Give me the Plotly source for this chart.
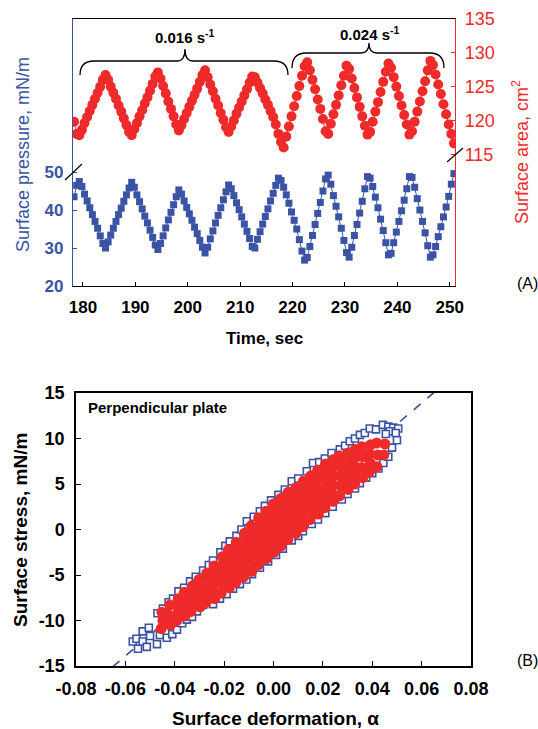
# two panels: (A) pressure + area vs time, (B) stress vs deformation
import plotly.graph_objects as go

# ---- panel A data ----
time_s = [178.3, 178.8, 179.3, 179.8, 180.3, 180.8, 181.3, 181.8, 182.3, 182.8,
          183.3, 183.8, 184.3, 184.8, 185.3, 185.8, 186.3, 186.8, 187.3, 187.8,
          188.3, 188.8, 189.3, 189.8, 190.3, 190.8, 191.3, 191.8, 192.3, 192.8,
          193.3, 193.8, 194.3, 194.8, 195.3, 195.8, 196.3, 196.8, 197.3, 197.8,
          198.3, 198.8, 199.3, 199.8, 200.3, 200.8, 201.3, 201.8, 202.3, 202.8,
          203.3, 203.8, 204.3, 204.8, 205.3, 205.8, 206.3, 206.8, 207.3, 207.8,
          208.3, 208.8, 209.3, 209.8, 210.3, 210.8, 211.3, 211.8, 212.3, 212.8,
          213.3, 213.8, 214.3, 214.8, 215.3, 215.8, 216.3, 216.8, 217.3, 217.8,
          218.3, 218.8, 219.3, 219.8, 220.3, 220.8, 221.3, 221.8, 222.3, 222.8,
          223.3, 223.8, 224.3, 224.8, 225.3, 225.8, 226.3, 226.8, 227.3, 227.8,
          228.3, 228.8, 229.3, 229.8, 230.3, 230.8, 231.3, 231.8, 232.3, 232.8,
          233.3, 233.8, 234.3, 234.8, 235.3, 235.8, 236.3, 236.8, 237.3, 237.8,
          238.3, 238.8, 239.3, 239.8, 240.3, 240.8, 241.3, 241.8, 242.3, 242.8,
          243.3, 243.8, 244.3, 244.8, 245.3, 245.8, 246.3, 246.8, 247.3, 247.8,
          248.3, 248.8, 249.3, 249.8, 250.3, 250.8]

pressure = [43.5, 46.5, 47.5, 46.2, 44.2, 42.4, 40.6, 38.8, 37.0, 35.2,
            33.2, 31.2, 30.0, 31.6, 33.4, 35.2, 37.0, 38.8, 40.5, 42.3,
            44.0, 45.8, 47.3, 46.0, 44.0, 42.2, 40.3, 38.4, 36.6, 34.7,
            32.8, 30.8, 29.6, 31.2, 33.2, 35.3, 37.4, 39.4, 41.4, 43.5,
            45.3, 44.2, 42.4, 40.7, 39.0, 37.3, 35.5, 33.8, 32.0, 30.2,
            28.7, 30.2, 32.4, 34.5, 36.6, 38.6, 40.6, 42.7, 44.8, 46.6,
            45.6, 43.8, 41.9, 40.1, 38.2, 36.3, 34.4, 32.5, 30.4, 30.0,
            32.3, 34.3, 36.3, 38.3, 40.3, 42.4, 44.4, 46.5, 48.4, 47.8,
            46.0, 44.0, 41.8, 39.5, 37.3, 35.0, 32.2, 29.2, 26.8, 27.5,
            30.4, 33.3, 36.2, 39.1, 42.0, 45.0, 48.2, 49.2, 46.8, 43.8,
            41.0, 38.2, 35.2, 32.0, 28.8, 27.6, 30.2, 33.3, 36.2, 39.2,
            42.3, 45.6, 48.8, 48.4, 46.2, 43.4, 40.6, 37.6, 34.6, 31.4,
            28.2, 28.6, 31.4, 34.2, 37.0, 39.8, 42.6, 45.6, 48.8, 48.6,
            46.0, 43.0, 40.0, 37.0, 34.0, 30.6, 27.6, 28.2, 30.4, 33.0,
            35.6, 38.2, 40.8, 43.6, 46.8, 49.6]

area = [119.8, 118.0, 117.8, 118.6, 119.6, 120.5, 121.4, 122.3, 123.2, 124.1,
        125.0, 126.0, 126.7, 126.0, 125.0, 124.1, 123.2, 122.2, 121.3, 120.3,
        119.3, 118.3, 117.8, 118.7, 119.6, 120.6, 121.5, 122.5, 123.4, 124.4,
        125.4, 126.5, 127.1, 126.2, 125.1, 124.0, 122.8, 121.7, 120.6, 119.4,
        118.5, 119.3, 120.2, 121.1, 122.0, 122.9, 123.8, 124.7, 125.7, 126.7,
        127.4, 126.4, 125.3, 124.3, 123.2, 122.2, 121.1, 120.1, 119.0, 118.3,
        119.1, 120.0, 121.0, 121.9, 122.8, 123.7, 124.6, 125.6, 126.5, 126.4,
        125.6, 124.8, 124.0, 123.1, 122.3, 121.4, 120.5, 119.4, 118.0, 116.8,
        116.0, 117.6, 119.1, 120.6, 122.1, 123.6, 125.1, 126.6, 128.0, 128.6,
        127.4, 126.0, 124.6, 123.1, 121.7, 120.2, 118.4, 118.0, 119.5, 120.9,
        122.3, 123.7, 125.2, 126.6, 128.1, 127.6, 126.2, 124.8, 123.4, 122.0,
        120.6, 119.2, 117.9, 118.3, 119.8, 121.3, 122.7, 124.2, 125.7, 127.2,
        128.4, 127.8, 126.4, 125.0, 123.6, 122.2, 120.8, 119.4, 117.9, 118.4,
        119.8, 121.3, 122.8, 124.3, 125.8, 127.4, 128.8, 128.2, 126.8, 125.3,
        123.9, 122.4, 120.9, 119.4, 118.0, 116.6]

time_ticks = [180, 190, 200, 210, 220, 230, 240, 250]
pressure_ticks = [20, 30, 40, 50]
area_ticks = [115, 120, 125, 130, 135]

# ---- panel B data ----
blue_x = [-0.0470, -0.0448, -0.0425, -0.0407, -0.0385, -0.0362, -0.0338, -0.0315,
          -0.0285, -0.0262, -0.0245, -0.0215, -0.0195, -0.0177, -0.0150, -0.0130,
          -0.0108, -0.0080, -0.0055, -0.0035, -0.0010, 0.0020, 0.0046, 0.0074,
          0.0100, 0.0135, 0.0160, 0.0185, 0.0208, 0.0235, 0.0269, 0.0290,
          0.0309, 0.0330, 0.0350, 0.0370, 0.0390, 0.0415, 0.0443, 0.0465,
          0.0485, 0.0505, 0.0470, 0.0495, 0.0455,
          -0.0570, -0.0549, -0.0555, -0.0530, -0.0513, -0.0500, -0.0472, -0.0460,
          -0.0432, -0.0410, -0.0391, -0.0370, -0.0351, -0.0330, -0.0310, -0.0285,
          -0.0265, -0.0245, -0.0217, -0.0190, -0.0164, -0.0136, -0.0110, -0.0087,
          -0.0055, -0.0022, 0.0010, 0.0038, 0.0074, 0.0100, 0.0119, 0.0155,
          0.0180, 0.0210, 0.0240, 0.0277, 0.0300, 0.0330, 0.0350, 0.0375,
          0.0400, 0.0425, 0.0445, 0.0465, 0.0480, 0.0500, -0.0530, -0.0505]
blue_y = [-9.2, -8.7, -8.0, -7.6, -6.8, -6.4, -5.7, -5.2,
          -4.5, -3.9, -3.4, -2.5, -1.8, -1.3, -0.7, 0.0,
          0.9, 1.4, 2.0, 2.6, 3.2, 3.8, 4.4, 5.3,
          5.6, 6.4, 7.3, 7.4, 7.8, 8.4, 8.8, 9.2,
          9.7, 10.0, 10.4, 10.6, 11.1, 11.0, 11.5, 11.3,
          11.2, 11.1, 10.8, 10.6, 10.5,
          -12.3, -13.1, -12.0, -12.3, -12.9, -11.7, -12.6, -11.6,
          -11.9, -11.5, -11.0, -10.3, -9.9, -9.6, -9.0, -8.3,
          -7.9, -8.2, -7.6, -7.1, -6.5, -6.0, -5.5, -4.9,
          -4.2, -3.5, -2.8, -2.1, -1.2, -0.7, -0.2, 0.6,
          1.1, 1.8, 2.5, 3.3, 3.9, 4.5, 5.1, 5.7,
          6.2, 6.7, 7.3, 8.0, 9.0, 9.8, -11.2, -10.8]

red_x = [-0.0455, -0.0448, -0.0452,
         -0.0418, -0.0424, -0.0420,
         -0.0392, -0.0387, -0.0391, -0.0386,
         -0.0358, -0.0363, -0.0357, -0.0361,
         -0.0334, -0.0327, -0.0331, -0.0328,
         -0.0297, -0.0303, -0.0299, -0.0302,
         -0.0272, -0.0268, -0.0271, -0.0266, -0.0270,
         -0.0238, -0.0243, -0.0240, -0.0236, -0.0241,
         -0.0212, -0.0207, -0.0210, -0.0213, -0.0208,
         -0.0179, -0.0183, -0.0178, -0.0181, -0.0177, -0.0182,
         -0.0152, -0.0147, -0.0150, -0.0153, -0.0148, -0.0151,
         -0.0121, -0.0118, -0.0123, -0.0119, -0.0122, -0.0117,
         -0.0088, -0.0093, -0.0090, -0.0087, -0.0092, -0.0089, -0.0091,
         -0.0062, -0.0058, -0.0061, -0.0057, -0.0063, -0.0059, -0.0060,
         -0.0028, -0.0033, -0.0030, -0.0027, -0.0032, -0.0029, -0.0031,
         0.0002, -0.0003, 0.0001, -0.0002, 0.0003, 0.0000, -0.0001,
         0.0031, 0.0027, 0.0032, 0.0028, 0.0030, 0.0033, 0.0029,
         0.0058, 0.0062, 0.0059, 0.0063, 0.0057, 0.0061, 0.0060,
         0.0092, 0.0088, 0.0091, 0.0087, 0.0093, 0.0089, 0.0090,
         0.0119, 0.0123, 0.0118, 0.0122, 0.0120, 0.0117, 0.0121,
         0.0148, 0.0152, 0.0149, 0.0153, 0.0147, 0.0151,
         0.0182, 0.0178, 0.0181, 0.0177, 0.0183, 0.0179,
         0.0208, 0.0212, 0.0209, 0.0213, 0.0207, 0.0211,
         0.0241, 0.0237, 0.0242, 0.0238, 0.0240, 0.0243,
         0.0268, 0.0272, 0.0269, 0.0273, 0.0267,
         0.0302, 0.0298, 0.0301, 0.0297, 0.0303,
         0.0329, 0.0333, 0.0328, 0.0332, 0.0331,
         0.0361, 0.0357, 0.0362, 0.0358,
         0.0388, 0.0392, 0.0389, 0.0393,
         0.0419, 0.0422, 0.0418,
         0.0447, 0.0451]
red_y = [-10.9, -10.0, -9.1,
         -10.5, -9.4, -8.3,
         -10.0, -9.2, -8.4, -7.6,
         -9.5, -8.6, -7.8, -6.9,
         -9.0, -8.1, -7.1, -6.2,
         -8.5, -7.5, -6.5, -5.5,
         -8.0, -7.2, -6.4, -5.6, -4.8,
         -7.6, -6.7, -5.8, -4.9, -4.0,
         -7.0, -6.0, -5.0, -4.0, -3.0,
         -6.4, -5.6, -4.7, -3.9, -3.0, -2.2,
         -5.8, -4.9, -4.0, -3.2, -2.3, -1.4,
         -5.2, -4.2, -3.3, -2.3, -1.4, -0.4,
         -4.6, -3.8, -2.9, -2.1, -1.3, -0.4, 0.4,
         -3.9, -3.0, -2.2, -1.3, -0.4, 0.4, 1.3,
         -3.2, -2.3, -1.5, -0.6, 0.3, 1.1, 2.0,
         -2.5, -1.6, -0.7, 0.2, 1.0, 1.9, 2.8,
         -1.8, -0.9, -0.1, 0.8, 1.7, 2.5, 3.4,
         -1.1, -0.2, 0.6, 1.5, 2.4, 3.2, 4.1,
         -0.4, 0.4, 1.3, 2.1, 2.9, 3.8, 4.6,
         0.3, 1.1, 2.0, 2.8, 3.6, 4.5, 5.3,
         1.1, 2.1, 3.0, 4.0, 4.9, 5.9,
         1.7, 2.7, 3.6, 4.6, 5.5, 6.5,
         2.4, 3.4, 4.3, 5.3, 6.2, 7.2,
         3.1, 4.0, 4.9, 5.9, 6.8, 7.7,
         3.7, 4.8, 5.9, 7.0, 8.1,
         4.4, 5.4, 6.4, 7.4, 8.4,
         5.0, 6.0, 6.9, 7.9, 8.8,
         5.7, 6.8, 8.0, 9.1,
         6.3, 7.3, 8.3, 9.3,
         6.9, 8.2, 9.5,
         8.2, 9.4]

fit_x = [-0.0652, 0.0652]
fit_y = [-15.1, 15.1]

def_ticks = [-0.08, -0.06, -0.04, -0.02, 0.0, 0.02, 0.04, 0.06, 0.08]
def_labels = ['-0.08', '-0.06', '-0.04', '-0.02', '0.00', '0.02', '0.04', '0.06', '0.08']
stress_ticks = [-15, -10, -5, 0, 5, 10, 15]
stress_labels = ['-15', '-10', '-5', '0', '5', '10', '15']

BLUE = '#3b53a4'
RED = '#ee2a2a'
FONT = 'Liberation Sans, Arial, sans-serif'
W, H = 538, 729


def px(x):
    return x / W


def py(y):
    return 1 - y / H


def path(points):
    # points given in page pixels -> paper coords string
    out = []
    for cmd, pts in points:
        coords = ' '.join('%.5f,%.5f' % (px(a), py(b)) for a, b in pts)
        out.append(cmd + ' ' + coords)
    return ' '.join(out)


fig = go.Figure()

fig.add_trace(go.Scatter(x=time_s, y=pressure, mode='lines+markers',
                         line=dict(color=BLUE, width=1),
                         marker=dict(symbol='square', size=7, color=BLUE),
                         xaxis='x', yaxis='y', showlegend=False))
fig.add_trace(go.Scatter(x=time_s, y=area, mode='lines+markers',
                         line=dict(color=RED, width=1),
                         marker=dict(symbol='circle', size=10, color=RED),
                         xaxis='x', yaxis='y2', showlegend=False))

fig.add_trace(go.Scatter(x=fit_x, y=fit_y, mode='lines',
                         line=dict(color='#3c4f8c', width=1.6, dash='dash'),
                         xaxis='x2', yaxis='y3', showlegend=False))
fig.add_trace(go.Scatter(x=blue_x, y=blue_y, mode='markers',
                         marker=dict(symbol='square', size=7, color='white',
                                     line=dict(color=BLUE, width=1.6)),
                         xaxis='x2', yaxis='y3', showlegend=False))
fig.add_trace(go.Scatter(x=red_x, y=red_y, mode='markers',
                         marker=dict(symbol='circle', size=11, color=RED),
                         xaxis='x2', yaxis='y3', showlegend=False))

top_x = [px(73), px(455)]
top_y = [py(286), py(19)]
bot_x = [px(76), px(471)]
bot_y = [py(666), py(393)]

fig.update_layout(
    width=W, height=H, autosize=False, showlegend=False,
    margin=dict(l=0, r=0, t=0, b=0, pad=0, autoexpand=False),
    paper_bgcolor='white', plot_bgcolor='white',
    font=dict(family=FONT, color='black'),
    xaxis=dict(domain=top_x, range=[178.1, 251.0], tickvals=time_ticks,
               ticks='inside', ticklen=4, tickcolor='black',
               showline=True, linecolor='black', linewidth=1, mirror=True,
               showgrid=False, zeroline=False, anchor='y', automargin=False,
               ticklabelstandoff=6,
               tickfont=dict(size=17, weight='bold', color='black')),
    yaxis=dict(domain=top_y, range=[20, 90.3], tickvals=pressure_ticks,
               ticks='inside', ticklen=4, tickcolor=BLUE,
               showline=True, linecolor=BLUE, linewidth=1.2,
               showgrid=False, zeroline=False, anchor='x', automargin=False,
               ticklabelstandoff=5,
               tickfont=dict(size=17, weight='bold', color=BLUE)),
    yaxis2=dict(range=[95.5, 135], tickvals=area_ticks, overlaying='y',
                side='right', anchor='x', automargin=False,
                ticks='inside', ticklen=4, tickcolor=RED,
                showline=True, linecolor=RED, linewidth=1.2,
                showgrid=False, zeroline=False,
                ticklabelstandoff=5,
                tickfont=dict(size=18, color=RED)),
    xaxis2=dict(domain=bot_x, range=[-0.08, 0.08], tickvals=def_ticks,
                ticktext=def_labels, ticks='inside', ticklen=5,
                tickcolor='black', showline=True, linecolor='black',
                linewidth=1.5, mirror=True, showgrid=False, zeroline=False,
                anchor='y3', automargin=False, ticklabelstandoff=6,
                tickfont=dict(size=18, weight='bold', color='black')),
    yaxis3=dict(domain=bot_y, range=[-15, 15], tickvals=stress_ticks,
                ticktext=stress_labels, ticks='inside', ticklen=5,
                tickcolor='black', showline=True, linecolor='black',
                linewidth=1.5, mirror=True, showgrid=False, zeroline=False,
                anchor='x2', automargin=False, ticklabelstandoff=6,
                tickfont=dict(size=18, weight='bold', color='black')),
)

notes = [
    dict(x=px(23), y=py(155), text='Surface pressure, mN/m', textangle=-90,
         font=dict(size=18, color=BLUE)),
    dict(x=px(521), y=py(152), text='Surface area, cm<sup>2</sup>', textangle=-90,
         font=dict(size=18, color=RED)),
    dict(x=px(264), y=py(338), text='Time, sec',
         font=dict(size=17, color='black', weight='bold')),
    dict(x=px(185), y=py(36), text='0.016 s<sup>-1</sup>',
         font=dict(size=15, color='black', weight='bold')),
    dict(x=px(370), y=py(33), text='0.024 s<sup>-1</sup>',
         font=dict(size=15, color='black', weight='bold')),
    dict(x=px(527), y=py(283), text='(A)', font=dict(size=16, color='black')),
    dict(x=px(527), y=py(660), text='(B)', font=dict(size=16, color='black')),
    dict(x=px(20), y=py(530), text='Surface stress, mN/m', textangle=-90,
         font=dict(size=19, color='black', weight='bold')),
    dict(x=px(275), y=py(718), text='Surface deformation, α',
         font=dict(size=19, color='black', weight='bold')),
    dict(x=px(86), y=py(407), text='Perpendicular plate', xanchor='left',
         font=dict(size=15, color='black', weight='bold')),
]
for n in notes:
    n.setdefault('xanchor', 'center')
    fig.add_annotation(xref='paper', yref='paper', showarrow=False,
                       yanchor='middle', **n)

# curly brackets over the two rate sections
br1 = path([('M', [(80, 75)]), ('Q', [(80, 61), (94, 61)]), ('L', [(177, 61)]),
            ('Q', [(185, 61), (185, 49)]), ('Q', [(185, 61), (193, 61)]),
            ('L', [(274, 61)]), ('Q', [(288, 61), (288, 75)])])
br2 = path([('M', [(292, 68)]), ('Q', [(292, 53), (306, 53)]), ('L', [(361, 53)]),
            ('Q', [(369, 53), (369, 43)]), ('Q', [(369, 53), (377, 53)]),
            ('L', [(430, 53)]), ('Q', [(444, 53), (444, 68)])])
for p in (br1, br2):
    fig.add_shape(type='path', path=p, xref='paper', yref='paper',
                  line=dict(color='black', width=1.3))

# axis break marks
for (x0, y0, x1, y1) in [(65, 180, 82, 164), (447, 162, 463, 148)]:
    fig.add_shape(type='line', xref='paper', yref='paper',
                  x0=px(x0), y0=py(y0), x1=px(x1), y1=py(y1),
                  line=dict(color='black', width=1.2))

# page body has a default 8px margin; drop it so the figure sits at 0,0
fig.write_html("out.html", config={'displayModeBar': False},
               post_script="document.body.style.margin='0';")
